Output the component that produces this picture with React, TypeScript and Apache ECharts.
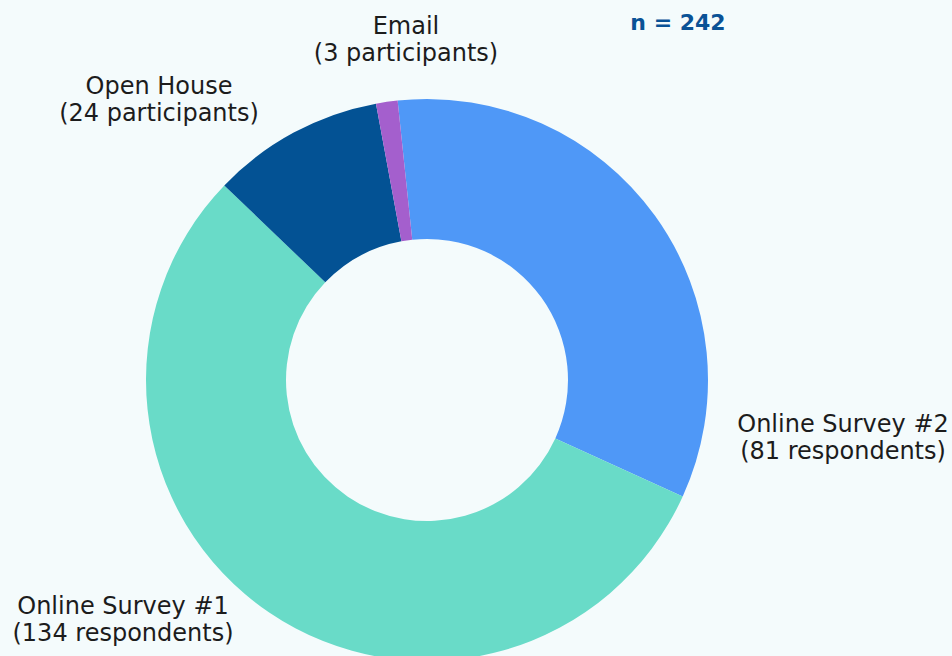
import React, { useEffect, useRef } from "react";
import * as echarts from "echarts";

const categories = ["Online Survey #2", "Online Survey #1", "Open House", "Email"];
const counts = [81, 134, 24, 3];
const units = ["respondents", "respondents", "participants", "participants"];
const colors = ["#4f98f7", "#69dbc8", "#035294", "#a45fcd"];
const total = 242;

const labelSpots: Record<number, [number, number]> = {
  0: [843, 437],
  1: [123, 619],
  2: [159, 99],
  3: [406, 39],
};

export default function App() {
  const ref = useRef<HTMLDivElement>(null);
  useEffect(() => {
    if (!ref.current) return;
    const chart = echarts.init(ref.current, null, { renderer: "svg" });
    chart.setOption({
      animation: false,
      backgroundColor: "#f4fbfc",
      graphic: [
        {
          type: "text",
          x: 678,
          y: 22,
          style: {
            text: "n = " + total,
            fontFamily: "DejaVu Sans",
            fontWeight: "bold",
            fontSize: 22,
            fill: "#0a5296",
            align: "center",
            verticalAlign: "middle",
          },
        },
      ],
      series: [
        {
          type: "pie",
          center: [427, 380],
          radius: [141, 281],
          startAngle: 96,
          clockwise: true,
          avoidLabelOverlap: false,
          data: categories.map((c, i) => ({
            name: c,
            value: counts[i],
            itemStyle: { color: colors[i] },
          })),
          label: {
            show: true,
            position: "outside",
            formatter: (p: any) => `${p.name}\n(${p.value} ${units[p.dataIndex]})`,
            fontFamily: "DejaVu Sans",
            fontSize: 24,
            lineHeight: 27,
            color: "#1c1c1c",
            align: "center",
          },
          labelLine: { show: false },
          labelLayout: (params: any) => {
            const s = labelSpots[params.dataIndex];
            return { x: s[0], y: s[1], align: "center", verticalAlign: "middle" };
          },
          emphasis: { disabled: true },
        },
      ],
    });
    return () => chart.dispose();
  }, []);
  return (
    <div
      ref={ref}
      style={{ position: "fixed", left: 0, top: 0, width: 952, height: 656 }}
    />
  );
}
